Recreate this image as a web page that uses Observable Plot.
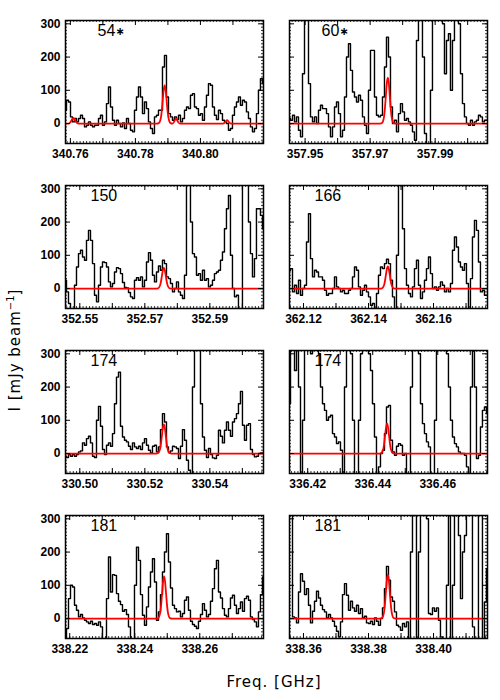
<!DOCTYPE html>
<html>
<head>
<meta charset="utf-8">
<script src="https://cdn.jsdelivr.net/npm/d3@7"></script>
<script src="https://cdn.jsdelivr.net/npm/@observablehq/plot@0.6"></script>
<style>
  html, body { margin: 0; padding: 0; background: white; }
  #wrap { position: relative; width: 500px; height: 700px; background: white; overflow: hidden; font-family: "DejaVu Sans", sans-serif; }
  .panel { position: absolute; }
  .ytitle { position: absolute; left: 14px; top: 350px; transform: translate(-50%, -50%) rotate(-90deg); white-space: nowrap; font-size: 15px; letter-spacing: 1px; color: black; }
  .ytitle sup { font-size: 10px; vertical-align: 6px; letter-spacing: 0; }
  .xtitle { position: absolute; left: 274px; top: 682px; transform: translate(-50%, -50%); white-space: nowrap; font-size: 15px; letter-spacing: 1px; color: black; }
</style>
</head>
<body>
<div id="wrap"></div>
<script>
// ---- data ----
const panelLabels = ["54", "60", "150", "166", "174", "174", "181", "181"];
const panelStarred = [true, true, false, false, false, false, false, false];
const startFreq = [340.7585, 357.9452, 352.5456, 362.1157, 330.4956, 336.4144, 338.2187, 338.3557]; // GHz, first channel
const chanWidth = 0.000615; // GHz
const panelSpan = 0.0609;   // GHz shown per panel

const xTicks1 = [340.76, 340.78, 340.80];
const xTicks2 = [357.95, 357.97, 357.99];
const xTicks3 = [352.55, 352.57, 352.59];
const xTicks4 = [362.12, 362.14, 362.16];
const xTicks5 = [330.50, 330.52, 330.54];
const xTicks6 = [336.42, 336.44, 336.46];
const xTicks7 = [338.22, 338.24, 338.26];
const xTicks8 = [338.36, 338.38, 338.40];
const yTicks = [0, 100, 200, 300];
const yDomain = [-60, 310];

// observed spectra (mJy/beam), one value per channel
const spec1 = [40,70,65,20,5,15,5,15,25,15,
-10,-5,5,-5,-10,-5,-5,15,25,-5,
5,60,110,50,10,-5,10,0,-10,2,
-15,15,0,-20,-25,40,80,110,80,30,
65,45,5,-15,-30,20,25,40,40,170,
205,80,30,20,10,20,12,25,5,15,
40,50,45,85,90,50,45,25,30,10,
50,85,120,115,50,25,12,40,30,10,
5,0,-20,-15,25,50,65,80,55,70,
65,35,15,-10,-25,-15,30,100,135,120];
const spec2 = [15,10,25,5,20,-20,-40,150,400,350,
120,20,5,20,0,40,55,45,45,30,
-10,-40,-10,50,65,30,-40,-20,80,200,
240,160,95,80,65,85,70,20,-5,-30,
100,220,220,80,25,20,25,80,170,260,
200,50,0,10,-25,30,60,35,10,15,
5,-5,-25,-50,250,420,420,200,-30,-80,
-100,100,380,450,450,420,350,300,150,250,
270,100,250,330,420,300,150,60,20,0,
-5,10,-5,5,10,25,20,5,10,10];
const spec3 = [25,-10,-45,-70,-70,10,65,105,115,95,
85,145,175,145,75,-20,-40,10,65,80,
78,65,20,5,15,50,63,60,45,18,
3,2,-12,-25,-30,25,33,25,35,5,
25,80,108,85,40,20,50,68,55,85,
75,35,30,15,-10,0,20,-10,-20,-30,
40,400,400,200,105,95,40,45,25,55,
25,30,5,10,25,45,50,55,85,110,
180,240,280,100,0,-25,-20,-65,-80,400,
400,350,200,105,35,90,240,240,220,180];
const spec4 = [55,60,-10,10,-15,25,-20,0,10,140,
225,90,35,55,50,35,35,25,-5,-20,
-15,-15,0,35,5,0,-10,-5,-15,-15,
-5,0,35,65,55,5,-20,-5,10,-10,
-25,-50,-45,-60,-15,40,65,60,75,88,
75,25,-25,-70,100,400,400,180,60,10,
-15,-25,5,60,85,10,-30,-10,25,60,
95,45,0,5,-5,5,20,10,-10,0,
-10,15,115,155,125,80,65,55,75,15,
-80,30,155,205,175,80,-10,-5,-20,-20];
const spec5 = [-8,-12,-3,-8,-3,-8,-3,5,8,32,
25,45,52,32,-8,-12,100,142,82,12,
-3,25,32,22,60,150,230,245,82,50,
40,35,22,12,32,20,15,22,12,32,
45,25,10,2,22,25,5,20,72,120,
95,20,3,8,22,20,15,-15,22,72,
40,-20,-50,-80,200,400,400,400,150,50,
10,-12,15,-3,-13,-15,-5,70,52,32,
70,95,70,52,95,105,120,150,187,85,
40,85,90,12,-3,-10,-8,0,2,2];
const spec6 = [150,400,400,250,400,200,-80,100,400,400,
350,300,400,400,400,300,200,150,130,100,
110,115,60,50,30,35,10,-80,200,400,
400,300,100,-80,-80,100,300,400,400,400,
300,250,150,50,-80,-40,0,10,60,140,
145,40,5,-5,22,30,25,-5,0,-60,
-80,200,400,400,400,300,150,90,60,35,
20,-60,-80,100,400,400,400,400,400,300,
200,100,50,30,20,5,0,0,-5,-40,
-80,200,400,200,-15,-5,80,130,140,120];
const spec7 = [-70,-30,60,100,95,40,25,5,12,2,
-5,-10,-15,-8,-18,-15,-20,-10,-25,-70,
-70,60,185,80,132,130,75,52,42,22,
27,12,-25,-65,-70,100,215,175,72,10,
-20,35,95,140,180,110,-5,20,72,140,
200,255,170,92,40,30,20,22,5,15,
55,65,25,-8,-18,-23,-30,-8,12,45,
25,5,12,52,90,150,175,80,62,30,
10,5,30,62,70,40,15,30,50,22,
60,67,55,5,-3,-10,-25,20,72,125];
const spec8 = [400,400,5,2,-13,80,135,112,72,90,
40,-13,22,52,82,62,40,27,20,2,
12,2,-8,-23,-38,-55,-10,72,105,70,
25,52,32,22,40,15,30,2,7,-13,
-15,-8,-18,2,-8,-20,0,32,90,157,
115,65,52,20,-20,-25,-35,-15,-25,-10,
-60,200,400,400,-80,200,400,400,400,300,
15,12,32,22,32,-5,-55,-80,-80,100,
400,-80,100,400,400,250,60,200,250,400,
400,350,-25,-60,-80,400,400,-80,50,150];

const redF1 = [340.7585,340.7594,340.7600,340.7605,340.7609,340.7613,340.7618,340.7624,
  340.7866,340.7872,340.7878,340.7881,340.7884,340.7887,340.7890,340.7893,340.7896,340.7899,340.7902,340.7908,
  340.7914,340.7919,340.7922,340.7925,340.7928,340.7931,340.7937,
  340.8070,340.8076,340.8082,340.8088,340.8094,340.8194];
const redI1 = [0,0,4,12,17,12,4,0,
  0,1.3,15.5,37,70,101,115,101,70,37,15.5,1.3,
  0,5,11,15,11,5,0,
  0,4,10,4,0,0];
const redF2 = [357.9452,357.97304,357.97364,357.97424,357.97454,357.97484,357.97514,357.97544,357.97574,357.97604,357.97634,357.97664,357.97724,357.97784,358.0061];
const redI2 = [0,0,1.5,18.6,45,84,122,138,122,84,45,18.6,1.5,0,0];
const redF3 = [352.5456,352.57345,352.57405,352.57465,352.57495,352.57525,352.57555,352.57585,352.57615,352.57645,352.57675,352.57705,352.57765,352.57825,352.6065];
const redI3 = [0,0,0.7,8.4,20,38,55,62,55,38,20,8.4,0.7,0,0];
const redF4 = [362.1157,362.14355,362.14415,362.14475,362.14505,362.14535,362.14565,362.14595,362.14625,362.14655,362.14685,362.14715,362.14775,362.14835,362.1766];
const redI4 = [0,0,0.7,9,22,41,59,67,59,41,22,9,0.7,0,0];
const redF5 = [330.4956,330.52345,330.52405,330.52465,330.52495,330.52525,330.52555,330.52585,330.52615,330.52645,330.52675,330.52705,330.52765,330.52825,330.5565];
const redI5 = [0,0,1,12,29,53,78,88,78,53,29,12,1,0,0];
const redF6 = [336.4144,336.44201,336.44261,336.44321,336.44351,336.44381,336.44411,336.44441,336.44471,336.44501,336.44531,336.44561,336.44621,336.44681,336.4753];
const redI6 = [0,0,1,12,29,55,79,90,79,55,29,12,1,0,0];
const redF7 = [338.2187,338.24662,338.24722,338.24782,338.24812,338.24842,338.24872,338.24902,338.24932,338.24962,338.24992,338.25022,338.25082,338.25142,338.2796];
const redI7 = [0,0,1.4,17,41,77,112,127,112,77,41,17,1.4,0,0];
const redF8 = [338.3557,338.38355,338.38415,338.38475,338.38505,338.38535,338.38565,338.38595,338.38625,338.38655,338.38685,338.38715,338.38775,338.38835,338.4166];
const redI8 = [0,0,1.5,18,43,80,116,132,116,80,43,18,1.5,0,0];

const specs = [spec1, spec2, spec3, spec4, spec5, spec6, spec7, spec8];
const redFs = [redF1, redF2, redF3, redF4, redF5, redF6, redF7, redF8];
const redIs = [redI1, redI2, redI3, redI4, redI5, redI6, redI7, redI8];
const xTicksAll = [xTicks1, xTicks2, xTicks3, xTicks4, xTicks5, xTicks6, xTicks7, xTicks8];

// ---- layout ----
const FW = 198, FH = 123;
const rowTop = [20, 185, 350, 515];
const wrap = document.getElementById("wrap");
const labelFont = "Liberation Sans, Arial, sans-serif";

for (let p = 0; p < 8; p++) {
  const col = p % 2, row = Math.floor(p / 2);
  const left = col === 0;
  const ml = left ? 45 : 24, mr = 3, mt = 3, mb = 24;
  const f0 = startFreq[p], f1 = f0 + panelSpan;
  const spec = specs[p].map((v, k) => ({f: f0 + k * chanWidth, v}));
  const red = redFs[p].map((f, i) => ({f, v: redIs[p][i]}));
  const xMinor = d3.ticks(f0, f1, 60);
  const xMajor = d3.ticks(f0, f1, 6);
  const yMinor = d3.range(-50, 310, 10);
  const labelDx = panelStarred[p] ? 32 : 25;

  const marks = [
    Plot.line(spec, {x: "f", y: "v", curve: "step", stroke: "black", strokeWidth: 1.4, clip: true}),
    Plot.line(red, {x: "f", y: "v", curve: "monotone-x", stroke: "#ff0000", strokeWidth: 1.8, clip: true}),
    Plot.tickX(xMinor, {insetTop: FH - 2, stroke: "black", strokeWidth: 0.8}),
    Plot.tickX(xMinor, {insetBottom: FH - 2, stroke: "black", strokeWidth: 0.8}),
    Plot.tickX(xMajor, {insetTop: FH - 5, stroke: "black"}),
    Plot.tickX(xMajor, {insetBottom: FH - 5, stroke: "black"}),
    Plot.tickY(yMinor, {insetRight: FW - 2, stroke: "black", strokeWidth: 0.8}),
    Plot.tickY(yMinor, {insetLeft: FW - 2, stroke: "black", strokeWidth: 0.8}),
    Plot.tickY(yTicks, {insetRight: FW - 5, stroke: "black"}),
    Plot.tickY(yTicks, {insetLeft: FW - 5, stroke: "black"}),
    Plot.frame({stroke: "black", strokeWidth: 1.5}),
    Plot.axisX({ticks: xTicksAll[p], tickFormat: d => d.toFixed(2), tickSize: 0, tickPadding: 6, label: null, fontWeight: "bold", fontSize: 12}),
    Plot.text([panelLabels[p]], {text: d => d, frameAnchor: "top-left", dx: labelDx, dy: 4, fontSize: 16, fontFamily: labelFont, fill: "black"})
  ];
  if (panelStarred[p]) {
    marks.push(Plot.text(["\u2217"], {text: d => d, frameAnchor: "top-left", dx: labelDx + 18, dy: 7, fontSize: 11, fontFamily: "DejaVu Sans, sans-serif", fontWeight: "bold", fill: "black"}));
  }
  if (left) {
    marks.push(Plot.axisY({ticks: yTicks, tickSize: 0, tickPadding: 5, label: null, fontWeight: "bold", fontSize: 12}));
  }

  const chart = Plot.plot({
    width: ml + FW + mr,
    height: mt + FH + mb,
    marginLeft: ml, marginRight: mr, marginTop: mt, marginBottom: mb,
    x: {domain: [f0, f1]},
    y: {domain: yDomain, axis: left ? undefined : null},
    style: {background: "transparent", overflow: "visible", fontFamily: "Liberation Sans, Arial, sans-serif", fontSize: "12px", color: "black"},
    marks
  });
  const holder = document.createElement("div");
  holder.className = "panel";
  holder.style.left = (left ? 65 - ml : 289 - ml) + "px";
  holder.style.top = (rowTop[row] - mt) + "px";
  holder.appendChild(chart);
  wrap.appendChild(holder);
}

const yt = document.createElement("div");
yt.className = "ytitle";
yt.innerHTML = "I [mJy beam<sup>\u22121</sup>]";
wrap.appendChild(yt);
const xt = document.createElement("div");
xt.className = "xtitle";
xt.textContent = "Freq. [GHz]";
wrap.appendChild(xt);
</script>
</body>
</html>
